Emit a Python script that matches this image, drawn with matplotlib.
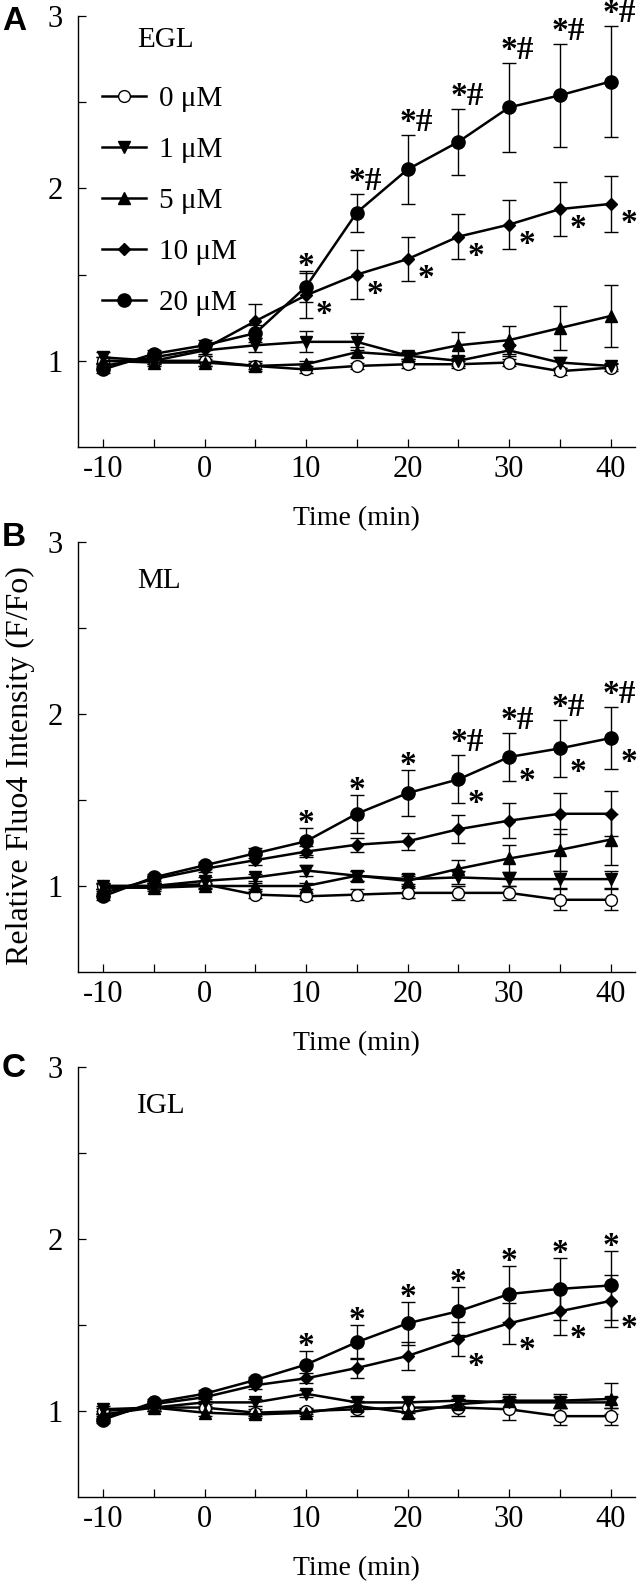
import numpy as np
import matplotlib
matplotlib.use('Agg')
import matplotlib.pyplot as plt

plt.rcParams['font.family'] = ['Liberation Serif', 'DejaVu Serif']
plt.rcParams['axes.unicode_minus'] = False

# ---- data ----
time = [-10, -5, 0, 5, 10, 15, 20, 25, 30, 35, 40]
conc_labels = ['0 \u03bcM', '1 \u03bcM', '5 \u03bcM', '10 \u03bcM', '20 \u03bcM']

# EGL
egl_0 = [1.00, 1.00, 1.00, 0.97, 0.95, 0.97, 0.98, 0.98, 0.99, 0.94, 0.96]
egl_1 = [1.02, 1.00, 1.06, 1.09, 1.11, 1.11, 1.03, 1.00, 1.06, 0.99, 0.97]
egl_5 = [1.00, 0.99, 0.99, 0.97, 0.98, 1.05, 1.03, 1.09, 1.12, 1.19, 1.26]
egl_10 = [0.97, 1.02, 1.07, 1.23, 1.38, 1.50, 1.59, 1.72, 1.79, 1.88, 1.91]
egl_20 = [0.95, 1.04, 1.09, 1.16, 1.43, 1.86, 2.11, 2.27, 2.47, 2.54, 2.62]
egl_e0 = [0.02, 0.02, 0.03, 0.03, 0.02, 0.02, 0.02, 0.02, 0.02, 0.02, 0.02]
egl_e1 = [0.03, 0.02, 0.03, 0.04, 0.06, 0.05, 0.02, 0.03, 0.03, 0.03, 0.02]
egl_e5 = [0.02, 0.02, 0.02, 0.02, 0.02, 0.03, 0.02, 0.075, 0.08, 0.13, 0.18]
egl_e10 = [0.02, 0.02, 0.03, 0.10, 0.13, 0.14, 0.13, 0.13, 0.14, 0.155, 0.16]
egl_e20 = [0.02, 0.02, 0.03, 0.05, 0.09, 0.11, 0.20, 0.19, 0.26, 0.30, 0.32]
egl_top = ['', '', '', '', '*', '*#', '*#', '*#', '*#', '*#', '*#']
egl_side = ['', '', '', '', '*', '*', '*', '*', '*', '*', '*']

# ML
ml_0 = [1.00, 1.00, 1.01, 0.95, 0.94, 0.95, 0.96, 0.96, 0.96, 0.92, 0.92]
ml_1 = [1.00, 1.00, 1.03, 1.05, 1.09, 1.06, 1.04, 1.05, 1.04, 1.04, 1.04]
ml_5 = [0.99, 0.99, 1.00, 1.00, 1.00, 1.06, 1.03, 1.10, 1.16, 1.21, 1.27]
ml_10 = [0.96, 1.04, 1.10, 1.15, 1.20, 1.24, 1.26, 1.33, 1.38, 1.42, 1.42]
ml_20 = [0.94, 1.05, 1.12, 1.19, 1.26, 1.42, 1.54, 1.62, 1.75, 1.80, 1.86]
ml_e0 = [0.02, 0.02, 0.02, 0.02, 0.02, 0.03, 0.03, 0.04, 0.04, 0.06, 0.06]
ml_e1 = [0.02, 0.02, 0.02, 0.02, 0.03, 0.03, 0.03, 0.04, 0.04, 0.05, 0.05]
ml_e5 = [0.02, 0.02, 0.02, 0.02, 0.02, 0.03, 0.03, 0.05, 0.08, 0.12, 0.15]
ml_e10 = [0.02, 0.02, 0.02, 0.03, 0.03, 0.04, 0.05, 0.08, 0.10, 0.12, 0.13]
ml_e20 = [0.02, 0.02, 0.02, 0.03, 0.08, 0.11, 0.135, 0.14, 0.14, 0.165, 0.18]
ml_top = ['', '', '', '', '*', '*', '*', '*#', '*#', '*#', '*#']
ml_side = ['', '', '', '', '', '', '', '*', '*', '*', '*']

# IGL
igl_0 = [1.00, 1.02, 1.02, 0.99, 1.00, 1.01, 1.02, 1.02, 1.01, 0.97, 0.97]
igl_1 = [1.01, 1.02, 1.05, 1.05, 1.10, 1.05, 1.05, 1.06, 1.05, 1.05, 1.05]
igl_5 = [0.98, 1.02, 0.99, 0.98, 0.99, 1.03, 0.99, 1.04, 1.06, 1.06, 1.07]
igl_10 = [0.96, 1.04, 1.08, 1.15, 1.19, 1.25, 1.32, 1.42, 1.51, 1.58, 1.64]
igl_20 = [0.95, 1.05, 1.10, 1.18, 1.27, 1.40, 1.51, 1.58, 1.68, 1.71, 1.73]
igl_e0 = [0.02, 0.02, 0.02, 0.02, 0.02, 0.04, 0.03, 0.05, 0.06, 0.05, 0.05]
igl_e1 = [0.02, 0.02, 0.02, 0.02, 0.02, 0.03, 0.03, 0.03, 0.03, 0.03, 0.03]
igl_e5 = [0.02, 0.02, 0.02, 0.02, 0.02, 0.03, 0.03, 0.03, 0.04, 0.04, 0.09]
igl_e10 = [0.02, 0.02, 0.02, 0.02, 0.03, 0.06, 0.08, 0.10, 0.12, 0.14, 0.15]
igl_e20 = [0.02, 0.02, 0.02, 0.02, 0.08, 0.10, 0.125, 0.14, 0.165, 0.18, 0.20]
igl_top = ['', '', '', '', '*', '*', '*', '*', '*', '*', '*']
igl_side = ['', '', '', '', '', '', '', '*', '*', '*', '*']

# ---- styles ----
markers = [dict(marker='o', ms=8.5, mfc='white', mec='black', mew=1.0),
           dict(marker='v', ms=8.5, mfc='black', mec='black'),
           dict(marker='^', ms=8.5, mfc='black', mec='black'),
           dict(marker='D', ms=6, mfc='black', mec='black'),
           dict(marker='o', ms=9.5, mfc='black', mec='black')]

W, H = 641, 1586
fig = plt.figure(figsize=(W / 100, H / 100), dpi=100)

def rect(top, bottom, left=78, right=635):
    return [left / W, 1 - bottom / H, (right - left) / W, (bottom - top) / H]

def panel(ax, series, errs, region, region_y, top_marks, side_marks, side_idx, side_dy, legend=False):
    for vals, ee in zip(series, errs):
        ax.errorbar(time, vals, yerr=ee, fmt='none', ecolor='black', elinewidth=1.0,
                    capsize=5, capthick=1.0, zorder=2)
    for vals, st, lab in zip(series, markers, conc_labels):
        ax.plot(time, vals, color='black', lw=1.8, label=lab, zorder=3, **st)
    top_v = np.array(series[4]) + np.array(errs[4])
    mark_kw = dict(textcoords='offset pixels', va='baseline', fontsize=24,
                   weight='bold', annotation_clip=False)
    for t, v, m in zip(time, top_v, top_marks):
        if m == '*':
            ax.annotate(m, (t, v), xytext=(0, -4), ha='center', **mark_kw)
        elif m:
            ax.annotate(m, (t, v), xytext=(-8, 4), ha='left', **mark_kw)
    for t, v, m in zip(time, series[side_idx], side_marks):
        if m:
            ax.annotate(m, (t, v), xytext=(18, side_dy), ha='center', **mark_kw)
    ax.text(0.106, region_y, region, transform=ax.transAxes, fontsize=21, va='baseline', ha='left')

    ax.set_xlim(-12.46, 42.4)
    ax.set_ylim(0.5, 3)
    ax.set_xticks([-10, 0, 10, 20, 30, 40])
    ax.set_xticks([-5, 5, 15, 25, 35], minor=True)
    ax.set_yticks([1, 2, 3])
    ax.set_yticks([1.5, 2.5], minor=True)
    ax.tick_params(which='both', direction='in', length=6, width=0.9, labelsize=22)
    ax.tick_params(axis='y', pad=11)
    ax.tick_params(axis='x', pad=6)
    for s in ['top', 'right']:
        ax.spines[s].set_visible(False)
    for s in ['left', 'bottom']:
        ax.spines[s].set_linewidth(1.0)
    ax.set_xlabel('Time (min)', fontsize=20, labelpad=16)
    if legend:
        ax.legend(loc='upper left', bbox_to_anchor=(0.043, 0.838), frameon=False, fontsize=21,
                  handlelength=1.5, handletextpad=0.45, labelspacing=0.84,
                  borderpad=0, borderaxespad=0)

axA = fig.add_axes(rect(16, 447))
panel(axA, [egl_0, egl_1, egl_5, egl_10, egl_20],
      [egl_e0, egl_e1, egl_e5, egl_e10, egl_e20], 'EGL', 0.928,
      egl_top, egl_side, 3, -28, legend=True)

axB = fig.add_axes(rect(542, 972))
panel(axB, [ml_0, ml_1, ml_5, ml_10, ml_20],
      [ml_e0, ml_e1, ml_e5, ml_e10, ml_e20], 'ML', 0.893,
      ml_top, ml_side, 4, -33)

axC = fig.add_axes(rect(1067, 1497))
panel(axC, [igl_0, igl_1, igl_5, igl_10, igl_20],
      [igl_e0, igl_e1, igl_e5, igl_e10, igl_e20], 'IGL', 0.893,
      igl_top, igl_side, 3, -36)

fig.text(20 / W, 1 - 766 / H, 'Relative Fluo4 Intensity (F/Fo)', rotation=90,
         ha='center', va='center', fontsize=23)

for lab, base in zip(['A', 'B', 'C'], [30, 546, 1077]):
    fig.text(2 / W, 1 - base / H, lab, family='Liberation Sans', weight='bold',
             fontsize=24, ha='left', va='baseline')

fig.savefig('out.png', dpi=100)
